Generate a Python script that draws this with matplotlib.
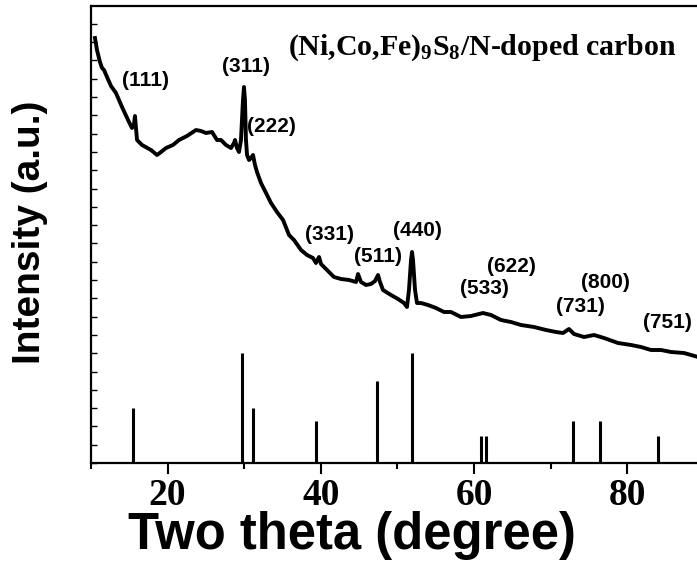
import matplotlib
matplotlib.use("Agg")
import matplotlib.pyplot as plt
from matplotlib.ticker import MultipleLocator

# measured XRD pattern (two theta in degree, intensity in a.u.)
two_theta = [10.52, 10.78, 11.17, 11.44, 11.70, 12.09, 12.61, 13.26, 14.05, 14.96,
             15.35, 15.61, 15.74, 15.87, 16.01, 16.66, 17.83, 18.62, 19.14, 19.79,
             20.70, 21.49, 22.53, 23.71, 24.36, 25.01, 25.80, 26.45, 26.97, 27.62,
             28.28, 28.67, 28.80, 29.06, 29.32, 29.58, 29.84, 29.97, 30.10, 30.23,
             30.37, 30.63, 30.89, 31.15, 31.41, 31.67, 32.19, 32.85, 33.50, 34.28,
             35.07, 35.85, 36.50, 37.42, 38.20, 38.98, 39.37, 39.77, 40.03, 40.81,
             41.72, 42.64, 43.68, 44.60, 44.86, 45.25, 45.90, 46.55, 47.08, 47.47,
             47.73, 48.12, 49.16, 50.08, 50.86, 51.25, 51.51, 51.78, 51.91, 52.04,
             52.30, 52.56, 53.08, 53.99, 55.04, 56.08, 57.00, 58.30, 59.61, 61.17,
             62.22, 63.52, 64.83, 66.14, 67.83, 69.40, 70.70, 71.62, 72.40, 73.05,
             74.36, 75.67, 76.97, 78.80, 80.50, 81.80, 83.11, 84.43, 85.72, 87.42,
             89.24]
intensity = [425, 413, 401, 395, 393, 386, 377, 370, 356, 341,
             335, 339, 347, 335, 323, 318, 313, 308, 311, 315,
             318, 323, 327, 333, 332, 330, 331, 323, 323, 318,
             315, 320, 323, 315, 311, 323, 363, 376, 363, 323,
             308, 303, 305, 308, 298, 291, 280, 270, 260, 251,
             243, 228, 223, 213, 208, 205, 200, 206, 199, 193,
             186, 184, 183, 181, 189, 181, 178, 179, 182, 188,
             181, 173, 168, 164, 160, 156, 173, 203, 211, 203,
             173, 160, 160, 158, 155, 151, 151, 146, 147, 150,
             148, 143, 141, 138, 136, 133, 131, 130, 134, 129,
             126, 128, 125, 120, 118, 116, 113, 113, 111, 110,
             106]

# reference pattern sticks (relative intensity, %)
ref_theta = [15.45, 29.75, 31.15, 39.4, 47.4, 51.9, 60.85, 61.55, 72.9, 76.4, 84.0]
ref_rel = [50, 100, 50, 38, 75, 100, 25, 25, 38, 38, 25]
ref_scale = 1.1

# peak labels
hkl = ["(111)", "(311)", "(222)", "(331)", "(511)", "(440)",
       "(622)", "(533)", "(800)", "(731)", "(751)"]
hkl_x = [17.18, 30.18, 33.50, 41.08, 47.47, 52.56, 64.83, 61.30, 77.10, 73.84, 85.20]
hkl_y = [382, 397, 336, 229, 207, 233, 196, 174, 181, 157, 140]

plt.rcParams["mathtext.fontset"] = "custom"
plt.rcParams["mathtext.rm"] = "Liberation Serif:bold"
plt.rcParams["mathtext.default"] = "rm"

fig = plt.figure(figsize=(6.97, 5.74), dpi=100)
ax = fig.add_axes([91 / 697, 111 / 574, 612.8 / 697, 457 / 574])

ax.plot(two_theta, intensity, color="black", lw=2.8, solid_joinstyle="round")
ax.vlines(ref_theta, 0, [r * ref_scale for r in ref_rel], color="black", lw=2.2)

for lab, x, y in zip(hkl, hkl_x, hkl_y):
    ax.text(x, y, lab, ha="center", va="center", fontsize=15,
            family="Liberation Sans", weight="bold")

ax.text(35.7, 408, "(Ni,Co,Fe)$_9$S$_8$/N-doped carbon", ha="left", va="baseline",
        fontsize=21.5, family="Liberation Serif", weight="bold")

ax.set_xlim(10, 90)
ax.set_ylim(0, 457)

ax.xaxis.set_major_locator(MultipleLocator(20))
ax.xaxis.set_minor_locator(MultipleLocator(10))
ax.yaxis.set_major_locator(MultipleLocator(18.3))
ax.set_yticklabels([])
ax.tick_params(axis="x", which="major", direction="out", length=8, width=1.5,
               labelsize=27, pad=3)
ax.tick_params(axis="x", which="minor", direction="out", length=4, width=1.5)
ax.tick_params(axis="y", which="major", direction="in", length=4, width=1)
for lab in ax.get_xticklabels():
    lab.set_family("Liberation Serif")
    lab.set_weight("bold")

for side in ["left", "bottom", "top"]:
    ax.spines[side].set_linewidth(1.6)

ax.set_xlabel("Two theta (degree)", fontsize=36.5, family="Liberation Sans",
              weight="bold", labelpad=0)
ax.xaxis.set_label_coords((352 - 91) / 612.8, -0.105)
ax.xaxis.label.set_va("top")
ax.set_ylabel("Intensity (a.u.)", fontsize=28, family="Liberation Sans",
              weight="bold")
ax.yaxis.set_label_coords((48 - 91) / 612.8, (463 - 232) / 457)

fig.savefig("out.png", dpi=100)
